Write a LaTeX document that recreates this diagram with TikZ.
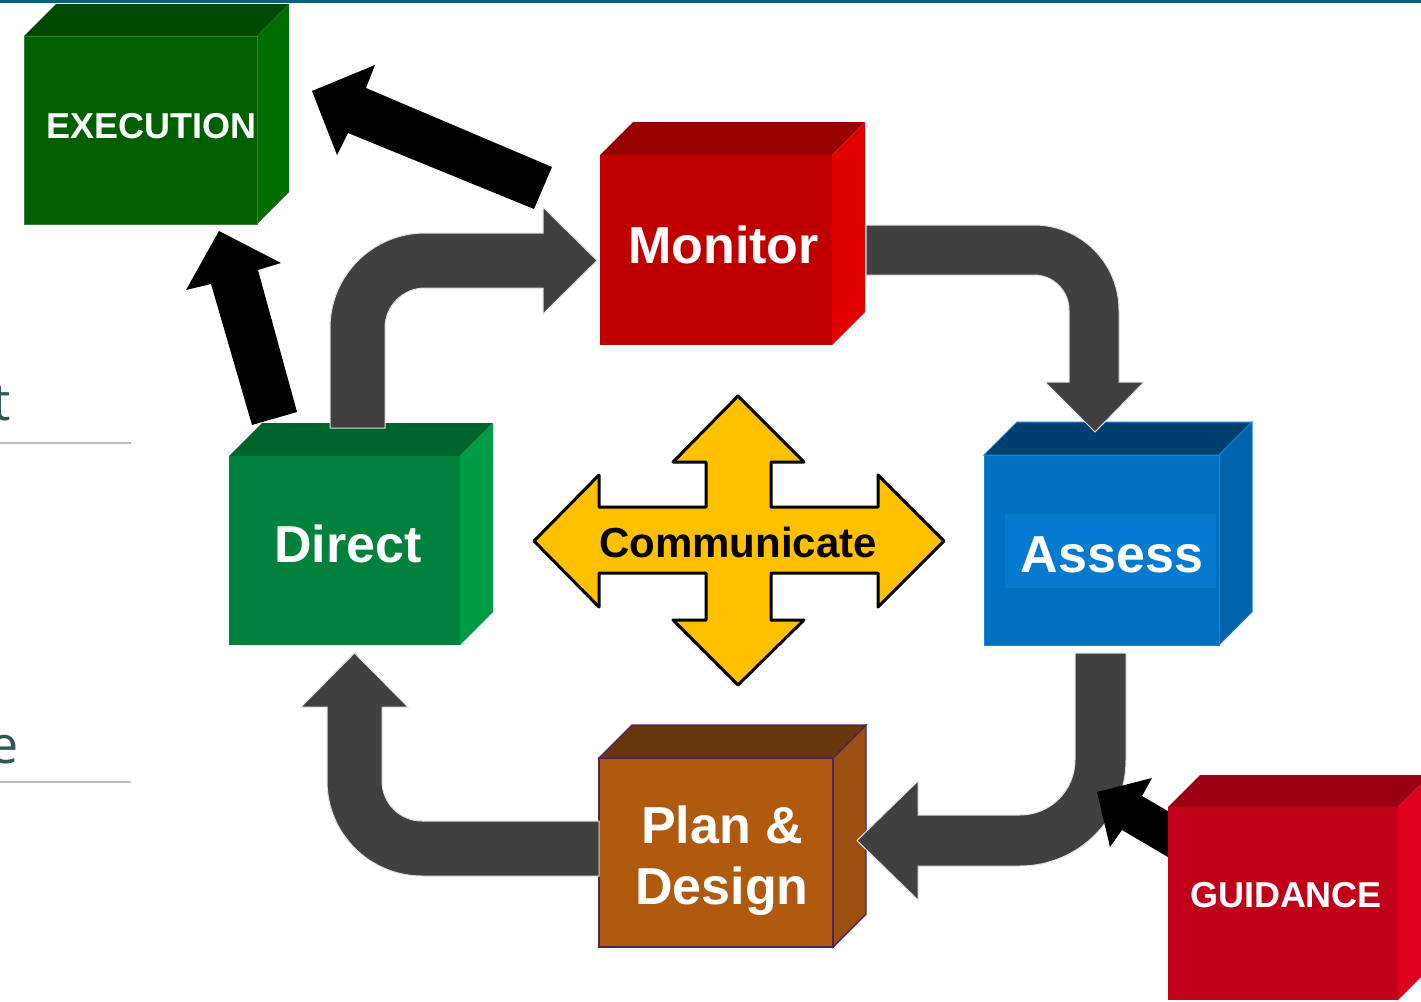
\documentclass[tikz,border=0pt]{standalone}
\usepackage{fontspec}
\setmainfont{Liberation Sans}
\newfontfamily\fragfont{Open Sans}
\usetikzlibrary{fit}
\definecolor{topline}{RGB}{10,96,126}
\definecolor{exF}{RGB}{0,96,0}\definecolor{exT}{RGB}{0,74,0}\definecolor{exR}{RGB}{0,110,0}
\definecolor{moF}{RGB}{192,0,0}\definecolor{moT}{RGB}{153,0,0}\definecolor{moR}{RGB}{224,0,0}
\definecolor{asF}{RGB}{0,112,192}\definecolor{asT}{RGB}{0,64,112}\definecolor{asR}{RGB}{0,100,170}\definecolor{asI}{RGB}{6,122,206}\definecolor{asE}{RGB}{30,130,210}
\definecolor{diF}{RGB}{0,130,60}\definecolor{diT}{RGB}{0,100,45}\definecolor{diR}{RGB}{0,155,70}
\definecolor{plF}{RGB}{176,90,15}\definecolor{plT}{RGB}{105,55,12}\definecolor{plR}{RGB}{153,80,16}\definecolor{plE}{RGB}{80,35,90}
\definecolor{guF}{RGB}{192,0,24}\definecolor{guT}{RGB}{155,0,20}\definecolor{guR}{RGB}{225,0,30}
\definecolor{flowgray}{RGB}{64,64,64}
\definecolor{commyellow}{RGB}{255,192,0}
\definecolor{fragtext}{RGB}{50,85,90}
\definecolor{fragline}{RGB}{184,191,204}
\newcommand\cubebox[7]{%
  \path[#7top] (#2,#3) -- (#2+#6,#3-#6) -- (#4+#6,#3-#6) -- (#4,#3) -- cycle;
  \path[#7right] (#4,#3) -- (#4+#6,#3-#6) -- (#4+#6,#5-#6) -- (#4,#5) -- cycle;
  \node[fit={(#2,#3)(#4,#5)}, inner sep=0pt, #7front] (#1) {};
}
\begin{document}
\begin{tikzpicture}[x=0.5pt,y=-0.5pt,
  lbl/.style={text=white, font=\bfseries\fontsize{26}{31}\selectfont, anchor=base, inner sep=0pt},
  smalllbl/.style={text=white, font=\bfseries\fontsize{18}{22}\selectfont, anchor=base, inner sep=0pt},
  flow/.style={fill=flowgray, draw=white!88!black, line width=0.5pt},
  push/.style={fill=black},
  extop/.style={fill=exT}, exright/.style={fill=exR}, exfront/.style={fill=exF, draw=exF!80!white, line width=0.4pt},
  motop/.style={fill=moT}, moright/.style={fill=moR}, mofront/.style={fill=moF},
  astop/.style={fill=asT, draw=asE, line width=0.5pt}, asright/.style={fill=asR, draw=asE, line width=0.5pt}, asfront/.style={fill=asF, draw=asE, line width=0.5pt},
  ditop/.style={fill=diT}, diright/.style={fill=diR}, difront/.style={fill=diF},
  pltop/.style={fill=plT, draw=plE, line width=0.7pt}, plright/.style={fill=plR, draw=plE, line width=0.7pt}, plfront/.style={fill=plF, draw=plE, line width=0.7pt},
  gutop/.style={fill=guT}, guright/.style={fill=guR}, gufront/.style={fill=guF},
]
\useasboundingbox (0,0) rectangle (1421,1002);
\clip (0,0) rectangle (1421,1002);
\fill[white] (0,0) rectangle (1421,1002);
% top rule
\fill[topline] (0,0) rectangle (1421,2.5);
% fragments at left
\node[font=\fragfont\fontsize{26}{30}\selectfont, text=fragtext, anchor=base east, inner sep=0pt] (fragt) at (11,420) {t};
\draw[fragline, line width=1pt] (0,443) -- (131,443);
\node[font=\fragfont\fontsize{26}{30}\selectfont, text=fragtext, anchor=base east, inner sep=0pt] (frage) at (19,763) {e};
\draw[fragline, line width=1pt] (0,782) -- (131,782);

% cubes
\cubebox{exec}{24}{36}{257}{224}{32}{ex}
\cubebox{mon}{600}{155}{832}{345}{33}{mo}
\cubebox{ass}{984}{455}{1219}{645}{33}{as}
\fill[asI] (1005,514) rectangle (1216,588);
\cubebox{dir}{229}{456}{460}{645}{33}{di}
\cubebox{plan}{599}{758}{833}{947}{33}{pl}

% labels
\node[smalllbl] (exectext) at (151.5,138) {EXECUTION};
\node[lbl] (montext) at (723.5,263) {Monitor};
\node[lbl] (asstext) at (1112,572) {Assess};
\node[lbl] (dirtext) at (348,562) {Direct};
\node[lbl] (plantext1) at (722,843) {Plan \&};
\node[lbl] (plantext2) at (722,904) {Design};

% gray cycle arrows
\path[flow] (330,428) -- (330,328) .. controls (330,275.5) and (372.5,233) .. (425,233)
  -- (543,233) -- (543,207) -- (597,260.5) -- (543,314) -- (543,288) -- (425,288)
  .. controls (402.9,288) and (385,305.9) .. (385,328) -- (385,428) -- cycle;
\path[flow] (866,225) -- (1034,225) .. controls (1080.9,225) and (1119,263.1) .. (1119,310)
  -- (1119,382) -- (1144,382) -- (1095,432) -- (1045,382) -- (1069,382) -- (1069,310)
  .. controls (1069,290.7) and (1053.3,275) .. (1034,275) -- (866,275) -- cycle;
\path[flow] (1075,653) -- (1126,653) -- (1126,760) .. controls (1126,818.5) and (1078.5,866) .. (1020,866)
  -- (918,866) -- (918,900) -- (857,840.5) -- (918,781) -- (918,815) -- (1020,815)
  .. controls (1050.4,815) and (1075,790.4) .. (1075,760) -- cycle;
\path[flow] (599,821) -- (599,876) -- (422,876) .. controls (369.5,876) and (327,833.5) .. (327,781)
  -- (327,707) -- (301,707) -- (354.5,653) -- (408,707) -- (382,707) -- (382,781)
  .. controls (382,803.1) and (399.9,821) .. (422,821) -- cycle;

% guidance arrow (over the gray arrow, behind its box)
\path[push] (1097,792) -- (1152,778) -- (1142,796) -- (1190,824) -- (1190,870) -- (1122,830) -- (1110,847) -- cycle;
\cubebox{guid}{1168}{807}{1398}{1000}{32}{gu}
\node[smalllbl] (guidtext) at (1286,907) {GUIDANCE};

% black arrows to EXECUTION
\path[push] (552,167) -- (366,88) -- (375,65) -- (312,91) -- (337,155) -- (348,133) -- (534,209) -- cycle;
\path[push] (252,425) -- (211,284) -- (186,290) -- (219,231) -- (281,263) -- (258,270) -- (297,412) -- cycle;

% communicate
\path[fill=commyellow, draw=black, line width=1.5pt, line join=round]
  (738,396) -- (804,462) -- (771,462) -- (771,507) -- (878,507) -- (878,475) -- (944,541)
  -- (878,607) -- (878,573) -- (771,573) -- (771,620) -- (804,620) -- (738,685) -- (673,620)
  -- (706,620) -- (706,573) -- (599,573) -- (599,607) -- (534,541) -- (599,475) -- (599,507)
  -- (706,507) -- (706,462) -- (673,462) -- cycle;
\node[font=\bfseries\fontsize{21}{25}\selectfont, anchor=base, inner sep=0pt] (comm) at (738,557) {Communicate};
\end{tikzpicture}
\end{document}
